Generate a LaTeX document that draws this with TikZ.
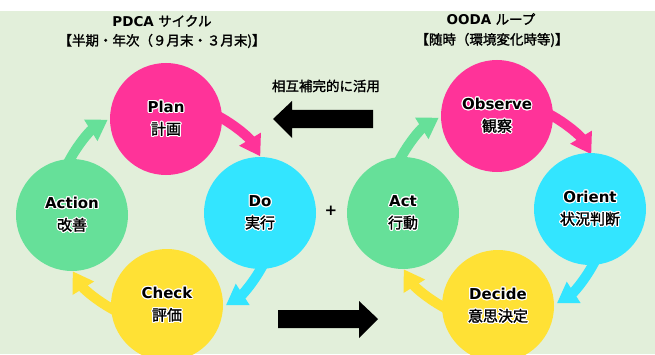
\documentclass[tikz,border=0pt]{standalone}
\usepackage{fontspec}
\setmainfont{DejaVu Sans}[BoldFont={DejaVu Sans Bold}]
\newfontfamily\cjk{Noto Sans CJK JP}[FakeBold=1.6]
\newfontfamily\latf{DejaVu Sans Bold}
\usepackage{contour}
\contourlength{1.1pt}
\contournumber{16}
\usetikzlibrary{arrows.meta,calc}
\definecolor{bgc}{HTML}{E2EFDA}
\definecolor{pinkc}{HTML}{FF3399}
\definecolor{cyanc}{HTML}{33E5FF}
\definecolor{greenc}{HTML}{66E099}
\definecolor{yellowc}{HTML}{FFE135}
\newcommand\circtext[2]{\contour{white}{\latf #1}\\\contour{white}{\cjk #2}}
\tikzset{
  circ/.style={circle,minimum size=112pt,inner sep=0pt,draw=none,align=center,
    font=\fontsize{15}{22}\selectfont},
  cyclearrow/.style={line width=10pt,-{Triangle[width=24pt,length=20pt]}},
  blockarrow/.style={fill=black,draw=none},
  title/.style={font=\fontsize{13.5}{16}\selectfont,inner sep=0pt}
}
\begin{document}
\begin{tikzpicture}[x=1pt,y=1pt]
\useasboundingbox (0,0) rectangle (655,354);
\fill[white] (0,0) rectangle (655,354);
\fill[bgc] (0,0) rectangle (655,343);
% cycle centres
\coordinate (pc) at (166,141);
\coordinate (oc) at (497,143);
% PDCA arrows
\draw[cyclearrow,pinkc] ($(pc)+(65:110)$) arc[start angle=65,end angle=31,radius=110];
\draw[cyclearrow,cyanc] ($(pc)+(-25:110)$) arc[start angle=-25,end angle=-57,radius=110];
\draw[cyclearrow,yellowc] ($(pc)+(-115:110)$) arc[start angle=-115,end angle=-148,radius=110];
\draw[cyclearrow,greenc] ($(pc)+(155:110)$) arc[start angle=155,end angle=122,radius=110];
% OODA arrows
\draw[cyclearrow,pinkc] ($(oc)+(65:110)$) arc[start angle=65,end angle=31,radius=110];
\draw[cyclearrow,cyanc] ($(oc)+(-25:110)$) arc[start angle=-25,end angle=-57,radius=110];
\draw[cyclearrow,yellowc] ($(oc)+(-115:110)$) arc[start angle=-115,end angle=-148,radius=110];
\draw[cyclearrow,greenc] ($(oc)+(155:110)$) arc[start angle=155,end angle=122,radius=110];
% PDCA circles
\node[circ,fill=pinkc] (plan) at (166,235) {\circtext{Plan}{計画}};
\node[circ,fill=cyanc] (do) at (260,141) {\circtext{Do}{実行}};
\node[circ,fill=yellowc] (check) at (167,49) {\circtext{Check}{評価}};
\node[circ,fill=greenc] (action) at (72,139) {\circtext{Action}{改善}};
% OODA circles
\node[circ,fill=pinkc] (observe) at (497,238) {\circtext{Observe}{観察}};
\node[circ,fill=cyanc] (orient) at (590,145) {\circtext{Orient}{状況判断}};
\node[circ,fill=yellowc] (decide) at (498,48) {\circtext{Decide}{意思決定}};
\node[circ,fill=greenc] (act) at (403,141) {\circtext{Act}{行動}};
% titles
\node[title] (t1) at (162,333) {{\latf PDCA} {\cjk サイクル}};
\node[title] (t2) at (162,313) {\cjk 【半期・年次（９月末・３月末)】};
\node[title] (t3) at (491,335) {{\latf OODA} {\cjk ループ}};
\node[title] (t4) at (492,314) {\cjk 【随時（環境変化時等)】};
\node[title] (t5) at (326,268) {\cjk 相互補完的に活用};
\node[font=\fontsize{15}{15}\selectfont\latf,inner sep=0pt] (plus) at (331,143) {+};
% block arrows
\fill[blockarrow] (273,235) -- (292,253) -- (292,244) -- (373,244) -- (373,226) -- (292,226) -- (292,216) -- cycle;
\fill[blockarrow] (378,35) -- (359,53) -- (359,44) -- (278,44) -- (278,26) -- (359,26) -- (359,16) -- cycle;
\end{tikzpicture}
\end{document}
